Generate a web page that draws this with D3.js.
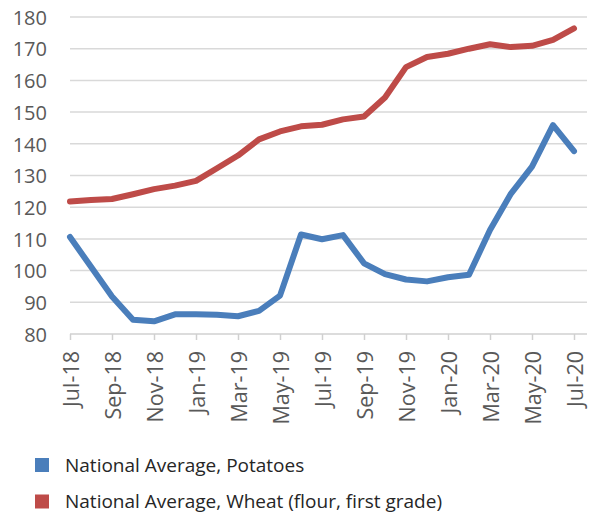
<!DOCTYPE html>
<html>
<head>
<meta charset="utf-8">
<script src="https://cdn.jsdelivr.net/npm/d3@7"></script>
<style>
  html, body { margin: 0; padding: 0; background: #ffffff; }
  svg { display: block; }
</style>
</head>
<body>
<svg id="chart" width="594" height="518"></svg>
<script>
const months = ["Jul-18","Aug-18","Sep-18","Oct-18","Nov-18","Dec-18","Jan-19","Feb-19","Mar-19","Apr-19","May-19","Jun-19","Jul-19","Aug-19","Sep-19","Oct-19","Nov-19","Dec-19","Jan-20","Feb-20","Mar-20","Apr-20","May-20","Jun-20","Jul-20"];
const potatoes = [110.6,101.2,91.8,84.5,84.0,86.2,86.2,86.1,85.6,87.3,92.1,111.4,109.9,111.2,102.3,98.9,97.2,96.6,97.9,98.7,112.8,124.3,132.8,145.9,137.7];
const wheat = [121.8,122.3,122.6,124.1,125.7,126.8,128.3,132.3,136.3,141.4,143.9,145.5,146.0,147.7,148.6,154.6,164.2,167.4,168.4,170.0,171.4,170.5,170.9,172.8,176.4];
const yTicks = [80,90,100,110,120,130,140,150,160,170,180];
const xTickLabels = ["Jul-18","Sep-18","Nov-18","Jan-19","Mar-19","May-19","Jul-19","Sep-19","Nov-19","Jan-20","Mar-20","May-20","Jul-20"];
const seriesNames = ["National Average, Potatoes","National Average, Wheat (flour, first grade)"];
const seriesColors = ["#4a7ebb","#be4b48"];

const svg = d3.select("#chart");
const font = "'Open Sans', 'Segoe UI', sans-serif";
const plotLeft = 70, plotRight = 587, plotTop = 17, plotBottom = 334;

const x = d3.scalePoint().domain(months).range([70, 574]);
const y = d3.scaleLinear().domain([80, 180]).range([plotBottom, plotTop]);

// gridlines
svg.append("g").selectAll("line").data(yTicks.filter(v => v > 80)).join("line")
  .attr("x1", plotLeft).attr("x2", plotRight)
  .attr("y1", d => y(d)).attr("y2", d => y(d))
  .attr("stroke", "#d9d9d9").attr("stroke-width", 1.5);

// y axis labels
const yAxis = d3.axisLeft(y).tickValues(yTicks).tickSize(0).tickPadding(0);
const gy = svg.append("g").attr("transform", "translate(47,0)").call(yAxis);
gy.select(".domain").remove();
gy.selectAll("text").attr("font-family", font).attr("font-size", 20).attr("fill", "#595959").attr("dy", "0.36em");

// x axis
const xAxis = d3.axisBottom(x).tickValues(xTickLabels).tickSize(6).tickSizeOuter(0);
const gx = svg.append("g").attr("transform", `translate(0,${plotBottom})`).call(xAxis);
gx.select(".domain").attr("d", `M${plotLeft},0H${plotRight}`).attr("stroke", "#d0d0d0").attr("stroke-width", 1.5);
gx.selectAll(".tick line").attr("stroke", "#d0d0d0").attr("stroke-width", 1.5);
gx.selectAll("text")
  .attr("font-family", font).attr("font-size", 21.5).attr("fill", "#595959")
  .attr("transform", "rotate(-90)")
  .attr("text-anchor", "end")
  .attr("x", -17).attr("y", 0).attr("dy", "0.38em");

// lines
const line = d3.line().x((d, i) => x(months[i])).y(d => y(d));
[potatoes, wheat].forEach((s, k) => {
  svg.append("path").datum(s)
    .attr("d", line)
    .attr("fill", "none")
    .attr("stroke", seriesColors[k])
    .attr("stroke-width", 6)
    .attr("stroke-linejoin", "round")
    .attr("stroke-linecap", "round");
});

// legend
const legendY = [465, 501.5];
const lg = svg.append("g").selectAll("g").data(seriesNames).join("g")
  .attr("transform", (d, i) => `translate(35,${legendY[i]})`);
lg.append("rect").attr("x", 0).attr("y", -7).attr("width", 14).attr("height", 14)
  .attr("fill", (d, i) => seriesColors[i]);
lg.append("text").attr("x", 30).attr("y", 0).attr("dy", "0.36em")
  .attr("font-family", font).attr("font-size", 19).attr("fill", "#262626")
  .text(d => d);
</script>
</body>
</html>
